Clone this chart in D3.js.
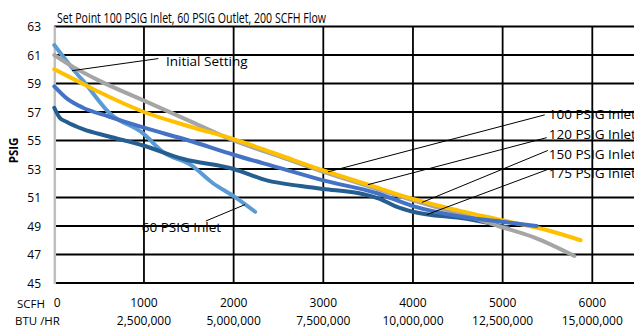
<!DOCTYPE html>
<html>
<head>
<meta charset="utf-8">
<script src="https://cdn.jsdelivr.net/npm/d3@7"></script>
<style>
  html, body { margin: 0; padding: 0; background: #fff; }
  svg { display: block; }
  text { font-family: "Open Sans", "Liberation Sans", sans-serif; fill: #000; }
</style>
</head>
<body>
<svg id="chart" width="634" height="328"></svg>
<script>
// ---- data ----
const titleText = "Set Point 100 PSIG Inlet, 60 PSIG Outlet, 200 SCFH Flow";
const scfhTicks = [0, 1000, 2000, 3000, 4000, 5000, 6000];
const btuLabels = ["", "2,500,000", "5,000,000", "7,500,000", "10,000,000", "12,500,000", "15,000,000"];
const psigTicks = [45, 47, 49, 51, 53, 55, 57, 59, 61, 63];

const inlet60X  = [0, 250, 320, 620, 990, 1210, 1530, 1770, 2000, 2240];
const inlet60Y  = [61.7, 59.7, 59.2, 56.9, 55.5, 54.2, 53.25, 52.0, 51.1, 50.0];

const inlet100X = [0, 200, 500, 1000, 1500, 2000, 2500, 3000, 3500, 4000, 4500, 4950, 5350, 5800];
const inlet100Y = [61.0, 60.2, 59.2, 57.8, 56.4, 55.0, 53.9, 52.8, 51.8, 50.8, 49.9, 49.0, 48.2, 46.9];

const inlet120X = [0, 250, 500, 1000, 1500, 2000, 2500, 3000, 3500, 4000, 4500, 5000, 5500, 5870];
const inlet120Y = [60.0, 59.2, 58.4, 57.0, 56.0, 55.1, 54.0, 52.9, 51.9, 50.9, 50.1, 49.4, 48.7, 48.0];

const inlet150X = [0, 150, 320, 600, 1000, 1500, 2000, 2500, 3000, 3600, 4000, 4600, 5000, 5380];
const inlet150Y = [58.8, 57.9, 57.3, 56.7, 55.9, 55.0, 54.0, 53.1, 52.2, 51.3, 50.4, 49.6, 49.3, 49.0];

const inlet175X = [0, 60, 140, 320, 600, 990, 1440, 2000, 2370, 2750, 3000, 3400, 3630, 3800, 4000, 4600, 5060];
const inlet175Y = [57.3, 56.6, 56.3, 55.8, 55.3, 54.65, 53.7, 53.0, 52.2, 51.8, 51.6, 51.3, 50.9, 50.4, 50.0, 49.5, 48.9];

const seriesNames  = ["60 PSIG Inlet", "175 PSIG Inlet", "100 PSIG Inlet", "120 PSIG Inlet", "150 PSIG Inlet"];
const seriesColors = ["#5B9BD5", "#255E91", "#A5A5A5", "#FFC000", "#4472C4"];
const seriesXs = [inlet60X, inlet175X, inlet100X, inlet120X, inlet150X];
const seriesYs = [inlet60Y, inlet175Y, inlet100Y, inlet120Y, inlet150Y];

// annotations (data units)
const annLabels = ["Initial Setting", "60 PSIG Inlet", "100 PSIG Inlet", "120 PSIG Inlet", "150 PSIG Inlet", "175 PSIG Inlet"];
const annTextX  = [1245, 975, 5515, 5515, 5515, 5515];
const annTextY  = [60.55, 48.96, 56.85, 55.45, 54.05, 52.72];
const annFromX  = [1160, 1690, 5470, 5492, 5504, 5504];
const annFromY  = [60.75, 49.35, 56.8, 55.2, 54.3, 52.97];
const annToX    = [198, 2126, 3052, 3497, 4099, 4154];
const annToY    = [59.9, 50.5, 52.8, 51.9, 50.65, 49.8];

// ---- layout ----
const svg = d3.select("#chart");
const xScale = d3.scaleLinear().domain([0, 6000]).range([54.3, 592.3]);
const yScale = d3.scaleLinear().domain([45, 63]).range([283, 26.5]);
const xMaxGrid = xScale.invert(640);

// horizontal gridlines
svg.append("g").selectAll("line").data(psigTicks).join("line")
  .attr("x1", xScale(0)).attr("x2", xScale(xMaxGrid))
  .attr("y1", d => yScale(d)).attr("y2", d => yScale(d))
  .attr("stroke", "#000").attr("stroke-width", d => d === 45 ? 2.2 : 1.8);

// vertical gridlines
svg.append("g").selectAll("line").data(scfhTicks.filter(d => d > 0)).join("line")
  .attr("x1", d => xScale(d)).attr("x2", d => xScale(d))
  .attr("y1", yScale(63)).attr("y2", yScale(45))
  .attr("stroke", "#000").attr("stroke-width", 1.8);

// left axis line (gray)
svg.append("line")
  .attr("x1", xScale(0) + 0.5).attr("x2", xScale(0) + 0.5)
  .attr("y1", yScale(63)).attr("y2", yScale(45) + 1)
  .attr("stroke", "#BFBFBF").attr("stroke-width", 2.5);

// y tick labels
svg.append("g").selectAll("text").data(psigTicks).join("text")
  .attr("x", 41).attr("y", d => yScale(d))
  .attr("text-anchor", "end").attr("dominant-baseline", "central")
  .attr("font-size", 12).text(d => d);

// y title
svg.append("text")
  .attr("transform", `translate(18, ${yScale(54.3)}) rotate(-90)`)
  .attr("text-anchor", "middle")
  .attr("font-size", 11.5).attr("font-weight", "bold").text("PSIG");

// x tick labels
svg.append("g").selectAll("text").data(scfhTicks).join("text")
  .attr("x", d => d === 0 ? xScale(0) + 3 : xScale(d))
  .attr("y", 302).attr("dominant-baseline", "central")
  .attr("text-anchor", "middle").attr("font-size", 12).text(d => d);
svg.append("g").selectAll("text").data(scfhTicks).join("text")
  .attr("x", d => xScale(d)).attr("y", 320.5).attr("dominant-baseline", "central")
  .attr("text-anchor", "middle").attr("font-size", 12).text((d, i) => btuLabels[i]);
svg.append("text").attr("x", 17).attr("y", 303.5).attr("dominant-baseline", "central")
  .attr("font-size", 11.5).text("SCFH");
svg.append("text").attr("x", 15).attr("y", 320.5).attr("dominant-baseline", "central")
  .attr("font-size", 11.5).text("BTU /HR");

// title
svg.append("text").attr("x", 57).attr("y", 17).attr("dominant-baseline", "central")
  .attr("font-size", 14).attr("textLength", 269).attr("lengthAdjust", "spacingAndGlyphs")
  .text(titleText);

// series
const line = d3.line().curve(d3.curveMonotoneX)
  .x(d => xScale(d[0])).y(d => yScale(d[1]));
seriesNames.forEach((name, i) => {
  const pts = seriesXs[i].map((v, j) => [v, seriesYs[i][j]]);
  svg.append("path").datum(pts)
    .attr("d", line).attr("fill", "none")
    .attr("stroke", seriesColors[i]).attr("stroke-width", 4)
    .attr("stroke-linecap", "round").attr("stroke-linejoin", "round");
});

// annotations
annLabels.forEach((lab, i) => {
  svg.append("line")
    .attr("x1", xScale(annFromX[i])).attr("y1", yScale(annFromY[i]))
    .attr("x2", xScale(annToX[i])).attr("y2", yScale(annToY[i]))
    .attr("stroke", "#000").attr("stroke-width", 1);
  svg.append("text")
    .attr("x", xScale(annTextX[i])).attr("y", yScale(annTextY[i]))
    .attr("dominant-baseline", "central").attr("font-size", 13.5).text(lab);
});
</script>
</body>
</html>
